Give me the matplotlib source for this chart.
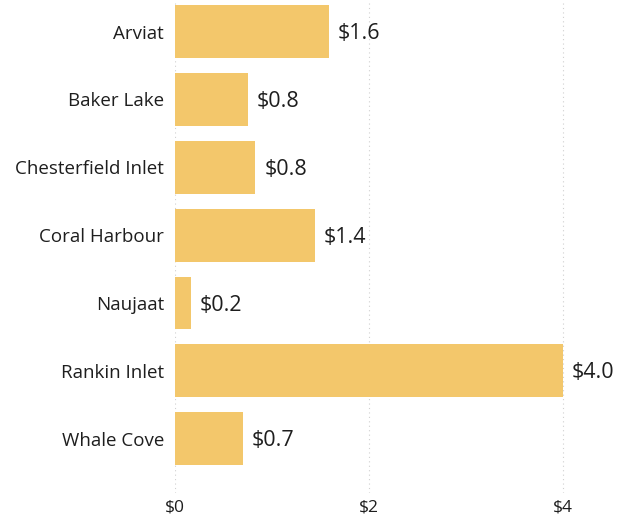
import matplotlib
matplotlib.use("Agg")
import matplotlib.pyplot as plt
from matplotlib.ticker import FuncFormatter

categories = ["Arviat", "Baker Lake", "Chesterfield Inlet", "Coral Harbour",
              "Naujaat", "Rankin Inlet", "Whale Cove"]
values = [1.59, 0.75, 0.83, 1.44, 0.16, 4.0, 0.70]
tick_values = [0, 2, 4]

plt.rcParams['font.family'] = ['Open Sans', 'DejaVu Sans']
text_color = "#1E1E1E"
bar_color = "#F3C76B"

fig = plt.figure(figsize=(6.26, 5.23), dpi=100)
W, H = 626, 523
left, right, top, bottom = 175, 610, 0, 493
ax = fig.add_axes([left / W, 1 - bottom / H, (right - left) / W, (bottom - top) / H])

y = list(range(len(categories)))
ax.barh(y, values, height=0.78, color=bar_color, zorder=2)
ax.set_xlim(0, (right - left) / 96.9)
ax.set_ylim(6.8, -0.465)

for yi, v in zip(y, values):
    ax.text(v + 0.09, yi + 0.03, f"${v:.1f}", va="center", ha="left",
            fontsize=15.5, color=text_color)

ax.set_yticks(y)
ax.set_yticklabels(categories, fontsize=13.5, color=text_color)
ax.set_xticks(tick_values)
ax.xaxis.set_major_formatter(FuncFormatter(lambda v, p: f"${v:.0f}"))
ax.tick_params(axis="x", labelsize=12.5, colors=text_color, length=0, pad=5)
ax.tick_params(axis="y", length=0, pad=8)
for lbl in ax.get_xticklabels():
    lbl.set_color(text_color)

ax.grid(axis="x", color="#D0D0D0", linestyle=(0, (1, 3)), linewidth=0.8, zorder=0)
ax.grid(axis="y", visible=False)
for s in ax.spines.values():
    s.set_visible(False)

fig.savefig("out.png", dpi=100)
